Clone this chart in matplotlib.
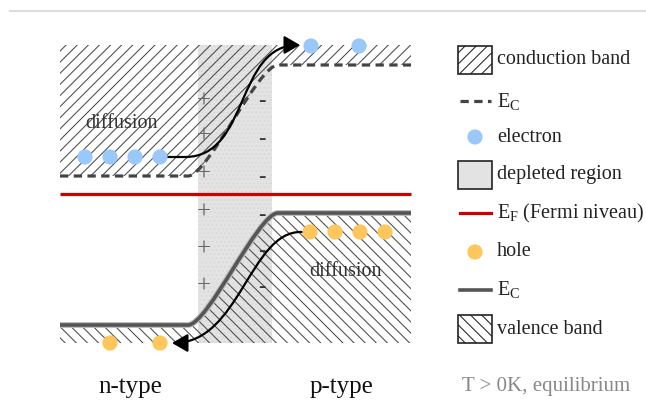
import matplotlib
matplotlib.use("Agg")
import matplotlib.pyplot as plt
from matplotlib.path import Path
from matplotlib.patches import PathPatch, Rectangle, FancyArrowPatch
from matplotlib.lines import Line2D

plt.rcParams['font.family'] = ['Liberation Serif', 'DejaVu Serif']
plt.rcParams['mathtext.fontset'] = 'custom'
plt.rcParams['mathtext.rm'] = 'Liberation Serif'
plt.rcParams['hatch.linewidth'] = 0.75

# diagram geometry (pixel units of the 646x403 picture, y pointing down)
x_left, x_right = 60, 411
band_top, band_bottom = 45, 343
ec_n, ec_p = 176, 65        # conduction band edge: n side, p side
ev_n, ev_p = 325, 213       # valence band edge: n side, p side
e_fermi = 194
step_x = [188, 278]          # where the bands bend
depl_x = [198, 272]          # depleted region

electrons_x = [85, 110, 135, 160, 311, 359]
electrons_y = [157, 157, 157, 157, 46, 46]
holes_x = [310, 335, 360, 385, 110, 160]
holes_y = [232, 232, 232, 232, 343, 343]

plus_x, plus_y = 204, [102, 137, 175, 213, 250, 287]
minus_x, minus_y = 262, [102, 140, 178, 215, 252, 288]

legend_labels = ['conduction band', r'$\mathrm{E_C}$', 'electron', 'depleted region',
                 r'$\mathrm{E_F}$ (Fermi niveau)', 'hole', r'$\mathrm{E_C}$', 'valence band']
legend_y = [60, 101, 137, 175, 213, 252, 290, 329]

c_electron = '#9ac8fb'
c_hole = '#fec65c'
c_hatch = '#4a4a4a'


def band_edge(y_n, y_p):
    a = 20
    verts = [(x_left, y_n), (step_x[0], y_n),
             (step_x[0] + a, y_n), (step_x[1] - a, y_p), (step_x[1], y_p),
             (x_right, y_p)]
    codes = [Path.MOVETO, Path.LINETO, Path.CURVE4, Path.CURVE4, Path.CURVE4, Path.LINETO]
    return verts, codes


fig = plt.figure(figsize=(6.46, 4.03), dpi=100)
ax = fig.add_axes([0, 0, 1, 1])
ax.set_xlim(0, 646)
ax.set_ylim(403, 0)
ax.axis('off')

ax.plot([10, 646], [11, 11], color='#dddddd', lw=1.5)

# depleted region
ax.add_patch(Rectangle((depl_x[0], band_top), depl_x[1] - depl_x[0], band_bottom - band_top,
                       facecolor='#e3e3e3', edgecolor='none', zorder=0))
ax.add_patch(Rectangle((depl_x[0], band_top), depl_x[1] - depl_x[0], band_bottom - band_top,
                       facecolor='none', edgecolor='#d8d8d8', lw=0, hatch='....', zorder=0.5))

# conduction band
cv, cc = band_edge(ec_n, ec_p)
verts = [(x_left, band_top)] + cv + [(x_right, band_top), (x_left, band_top)]
codes = [Path.MOVETO] + [Path.LINETO] + cc[1:] + [Path.LINETO, Path.CLOSEPOLY]
ax.add_patch(PathPatch(Path(verts, codes), facecolor='none', edgecolor=c_hatch, lw=0,
                       hatch='///', zorder=1))
ax.add_patch(PathPatch(Path(cv, cc), fill=False, edgecolor='#444444', lw=2.3,
                       linestyle=(0, (2.6, 1.7)), zorder=3))

# valence band
vv, vc = band_edge(ev_n, ev_p)
verts = vv + [(x_right, band_bottom), (x_left, band_bottom), (x_left, ev_n)]
codes = vc + [Path.LINETO, Path.LINETO, Path.CLOSEPOLY]
ax.add_patch(PathPatch(Path(verts, codes), facecolor='none', edgecolor=c_hatch, lw=0,
                       hatch='\\\\\\', zorder=1))
ax.add_patch(PathPatch(Path(vv, vc), fill=False, edgecolor='#bbbbbb', lw=4.2, zorder=2.9,
                       capstyle='butt'))
ax.add_patch(PathPatch(Path(vv, vc), fill=False, edgecolor='#555555', lw=2.6, zorder=3,
                       capstyle='butt'))

# Fermi level
ax.plot([x_left, x_right], [e_fermi, e_fermi], color='#cc0000', lw=2.3, zorder=3,
        solid_capstyle='butt')

# charges
for y in plus_y:
    ax.text(plus_x, y, '+', fontsize=18, color='#666666', ha='center', va='center', zorder=4)
for y in minus_y:
    ax.text(minus_x, y, '-', fontsize=16, color='#333333', ha='center', va='center', zorder=4)

# carriers
ax.scatter(electrons_x, electrons_y, s=120, color=c_electron, edgecolors='none', zorder=6)
ax.scatter(holes_x, holes_y, s=120, color=c_hole, edgecolors='none', zorder=6)

# diffusion arrows
e_path = Path([(167, 157), (185, 157), (250, 157), (235, 45), (300, 45)],
              [Path.MOVETO, Path.LINETO, Path.CURVE4, Path.CURVE4, Path.CURVE4])
h_path = Path([(302, 232), (250, 230), (240, 343), (172, 343)],
              [Path.MOVETO, Path.CURVE4, Path.CURVE4, Path.CURVE4])
for p in (e_path, h_path):
    ax.add_patch(FancyArrowPatch(path=p, arrowstyle='-|>,head_length=9.5,head_width=5.5',
                                 mutation_scale=1, lw=1.6, color='black', zorder=5))

ax.text(121, 123, 'diffusion', fontsize=14.5, color='#333333', ha='center', va='center', zorder=4)
ax.text(346, 271, 'diffusion', fontsize=14.5, color='#333333', ha='center', va='center', zorder=4)

# bottom labels
ax.text(130, 387, 'n-type', fontsize=18, color='#111111', ha='center', va='center')
ax.text(342, 387, 'p-type', fontsize=18, color='#111111', ha='center', va='center')
ax.text(546, 387, 'T > 0K, equilibrium', fontsize=15, color='#888888', ha='center', va='center')

# legend
bx, bw, bh = 458, 34, 28
lx = [460, 491]
ax.add_patch(Rectangle((bx, legend_y[0] - bh / 2), bw, bh, facecolor='white', edgecolor='#222222',
                       lw=1.2, hatch='///'))
ax.add_line(Line2D(lx, [legend_y[1]] * 2, color='#444444', lw=2.3, linestyle=(0, (2.6, 1.7))))
ax.scatter([475], [legend_y[2]], s=120, color=c_electron, edgecolors='none')
ax.add_patch(Rectangle((bx, legend_y[3] - bh / 2), bw, bh, facecolor='#e3e3e3', edgecolor='#222222',
                       lw=1.2))
ax.add_line(Line2D(lx, [legend_y[4]] * 2, color='#cc0000', lw=2.3))
ax.scatter([475], [legend_y[5]], s=120, color=c_hole, edgecolors='none')
ax.add_line(Line2D(lx, [legend_y[6]] * 2, color='#555555', lw=2.6))
ax.add_patch(Rectangle((bx, legend_y[7] - bh / 2), bw, bh, facecolor='white', edgecolor='#222222',
                       lw=1.2, hatch='\\\\\\'))
for label, y in zip(legend_labels, legend_y):
    ax.text(497, y, label, fontsize=14.5, color='#222222', ha='left', va='center')

fig.savefig('out.png', dpi=100)
